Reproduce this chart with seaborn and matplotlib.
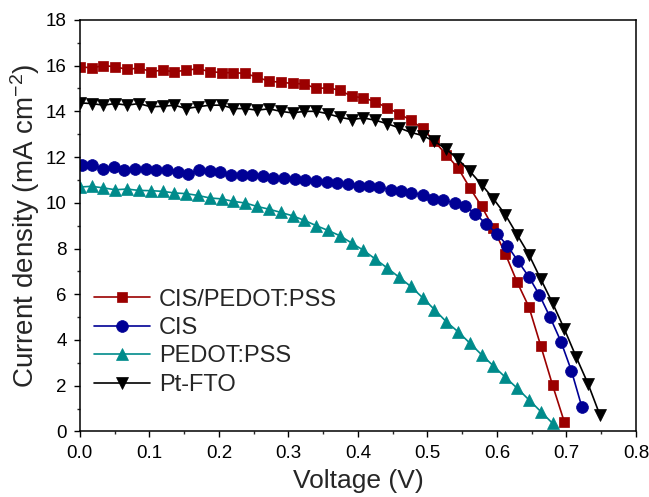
import matplotlib
matplotlib.use("Agg")
import matplotlib.pyplot as plt
from matplotlib.ticker import MultipleLocator
import pandas as pd
import seaborn as sns

# voltage grid shared by CIS/PEDOT:PSS, PEDOT:PSS and Pt-FTO
volt_a = [0.000, 0.017, 0.034, 0.051, 0.068, 0.085, 0.102, 0.119, 0.136, 0.153,
          0.170, 0.187, 0.204, 0.221, 0.238, 0.255, 0.272, 0.289, 0.306, 0.323,
          0.340, 0.357, 0.374, 0.391, 0.408, 0.425, 0.442, 0.459, 0.476, 0.493,
          0.510, 0.527, 0.544, 0.561, 0.578, 0.595, 0.612, 0.629, 0.646, 0.663,
          0.680, 0.697, 0.714, 0.731, 0.748]
# CIS was sampled a bit more densely
volt_b = [0.003, 0.018, 0.034, 0.049, 0.064, 0.080, 0.095, 0.110, 0.125, 0.141,
          0.156, 0.171, 0.187, 0.202, 0.217, 0.233, 0.248, 0.263, 0.278, 0.294,
          0.309, 0.324, 0.340, 0.355, 0.370, 0.386, 0.401, 0.416, 0.431, 0.447,
          0.462, 0.477, 0.493, 0.508, 0.523, 0.539, 0.554, 0.569, 0.584, 0.600,
          0.615, 0.630, 0.646, 0.661, 0.676, 0.692, 0.707, 0.722]

j_cis_pedot = [15.95, 15.90, 16.00, 15.95, 15.83, 15.90, 15.74, 15.80, 15.73, 15.80,
               15.86, 15.74, 15.69, 15.69, 15.66, 15.49, 15.32, 15.27, 15.22, 15.20,
               15.00, 15.03, 14.92, 14.66, 14.59, 14.42, 14.15, 13.90, 13.61, 13.25,
               12.69, 12.11, 11.52, 10.65, 9.84, 8.88, 7.77, 6.53, 5.44, 3.74,
               2.02, 0.40]
j_cis = [11.67, 11.64, 11.49, 11.57, 11.45, 11.49, 11.49, 11.45, 11.45, 11.35,
         11.27, 11.45, 11.38, 11.33, 11.23, 11.23, 11.20, 11.16, 11.10, 11.09,
         11.04, 11.01, 10.94, 10.90, 10.87, 10.84, 10.75, 10.72, 10.69, 10.57,
         10.50, 10.43, 10.35, 10.17, 10.12, 9.99, 9.85, 9.52, 9.08, 8.65,
         8.12, 7.46, 6.75, 5.97, 5.02, 3.93, 2.66, 1.08]
j_pedot = [10.69, 10.72, 10.65, 10.57, 10.60, 10.54, 10.53, 10.50, 10.43, 10.40,
           10.32, 10.21, 10.17, 10.06, 9.99, 9.84, 9.72, 9.58, 9.43, 9.23,
           9.00, 8.79, 8.56, 8.24, 7.92, 7.54, 7.15, 6.75, 6.34, 5.85,
           5.33, 4.80, 4.36, 3.86, 3.35, 2.86, 2.37, 1.89, 1.38, 0.87,
           0.35]
j_ptfto = [14.37, 14.34, 14.27, 14.34, 14.27, 14.34, 14.20, 14.22, 14.27, 14.12,
           14.20, 14.27, 14.27, 14.12, 14.12, 14.05, 14.11, 14.00, 13.93, 14.00,
           14.00, 13.89, 13.74, 13.64, 13.71, 13.61, 13.46, 13.28, 13.08, 12.94,
           12.69, 12.35, 11.90, 11.38, 10.79, 10.17, 9.48, 8.60, 7.73, 6.66,
           5.61, 4.47, 3.25, 2.08, 0.72]

labels = ["CIS/PEDOT:PSS", "CIS", "PEDOT:PSS", "Pt-FTO"]
colors = ["#9b0000", "#000095", "#008b8b", "#000000"]
markers = ["s", "o", "^", "v"]
msizes = [7.5, 8.5, 9, 9]

series = [(volt_a, j_cis_pedot), (volt_b, j_cis), (volt_a, j_pedot), (volt_a, j_ptfto)]

sns.set_style("ticks")
plt.rcParams["font.family"] = ["Liberation Sans", "DejaVu Sans"]
plt.rcParams["mathtext.default"] = "regular"

fig = plt.figure(figsize=(6.49, 4.97), dpi=100)
ax = fig.add_axes([0.123, 0.132, 0.857, 0.828])

for (v, j), lab, col, mk, ms in zip(series, labels, colors, markers, msizes):
    df = pd.DataFrame({"V": v[:len(j)], "J": j})
    sns.lineplot(data=df, x="V", y="J", ax=ax, color=col, marker=mk,
                 markersize=ms, markeredgecolor=col, markeredgewidth=0.5,
                 linewidth=1.2, label=lab, sort=False, estimator=None)

ax.set_xlim(0, 0.8)
ax.set_ylim(0, 18)
ax.xaxis.set_major_locator(MultipleLocator(0.1))
ax.xaxis.set_minor_locator(MultipleLocator(0.05))
ax.yaxis.set_major_locator(MultipleLocator(2))
ax.yaxis.set_minor_locator(MultipleLocator(1))
ax.set_xticklabels([f"{t:.1f}" for t in ax.get_xticks()])

for s in ax.spines.values():
    s.set_linewidth(1.1)
    s.set_color("black")
ax.tick_params(which="major", direction="out", length=4.5, width=1.0,
               labelsize=13.5, pad=5, colors="black")
ax.tick_params(which="minor", direction="out", length=2.5, width=1.0)

ax.set_xlabel("Voltage (V)", fontsize=19, labelpad=5)
ax.set_ylabel("Current density (mA cm$^{-2}$)", fontsize=20, labelpad=3)

ax.legend(loc="center left", bbox_to_anchor=(0.025, 0.2165), frameon=False,
          fontsize=17, borderpad=0, borderaxespad=0, handlelength=2.4,
          handletextpad=0.35, labelspacing=0.27)

fig.savefig("out.png", dpi=100)
